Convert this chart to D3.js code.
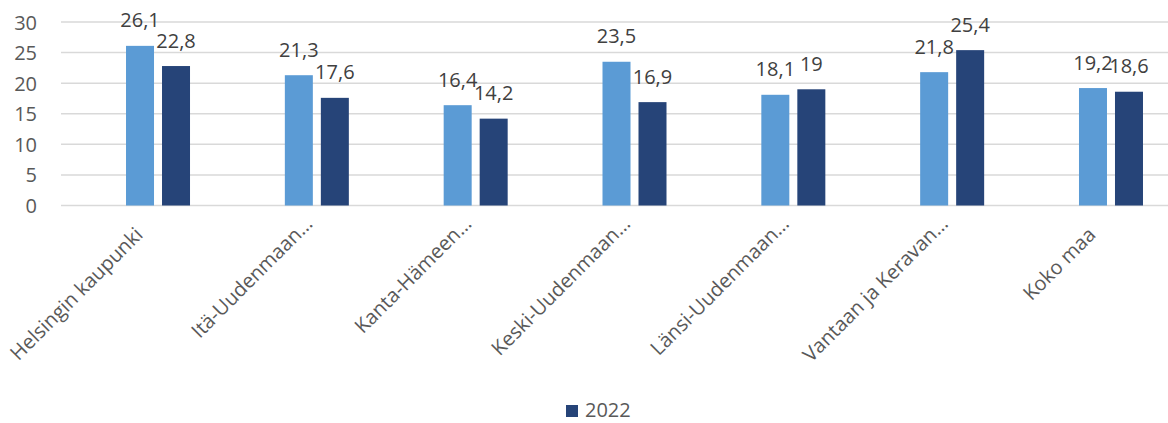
<!DOCTYPE html>
<html>
<head>
<meta charset="utf-8">
<script src="https://cdn.jsdelivr.net/npm/d3@7"></script>
<style>
  html, body { margin: 0; padding: 0; background: #fff; }
  svg { display: block; }
  text { font-family: "Open Sans", "Noto Sans", sans-serif; fill: #595959; }
</style>
</head>
<body>
<svg id="chart" width="1168" height="423"></svg>
<script>
const categories = ["Helsingin kaupunki", "Itä-Uudenmaan…", "Kanta-Hämeen…", "Keski-Uudenmaan…", "Länsi-Uudenmaan…", "Vantaan ja Keravan…", "Koko maa"];
const seriesNames = ["", "2022"];
const seriesPrev = [26.1, 21.3, 16.4, 23.5, 18.1, 21.8, 19.2];
const series2022 = [22.8, 17.6, 14.2, 16.9, 19, 25.4, 18.6];
const yTicks = [0, 5, 10, 15, 20, 25, 30];
const colors = ["#5B9BD5", "#264478"];

const svg = d3.select("#chart");
const fontSize = 20;
const catFontSize = 20;

const y = d3.scaleLinear().domain([0, 30]).range([205.5, 22]);
const x = d3.scaleBand().domain(categories).range([78.6, 1190.4]).paddingInner(0).paddingOuter(0);
const xi = d3.scaleBand().domain(seriesNames).range([-32, 32]).paddingInner(8 / 36).paddingOuter(0);

const gridLeft = 61, gridRight = 1168;

// gridlines
svg.append("g").selectAll("line").data(yTicks).join("line")
  .attr("x1", gridLeft).attr("x2", gridRight)
  .attr("y1", d => y(d)).attr("y2", d => y(d))
  .attr("stroke", "#D9D9D9").attr("stroke-width", 1.5);

// y tick labels
svg.append("g").selectAll("text").data(yTicks).join("text")
  .attr("x", 37).attr("y", d => y(d))
  .attr("text-anchor", "end").attr("dominant-baseline", "central")
  .attr("font-size", fontSize)
  .text(d => d);

const data = [seriesPrev, series2022];
const fmt = v => String(v).replace(".", ",");

data.forEach((vals, si) => {
  svg.append("g").selectAll("rect").data(vals).join("rect")
    .attr("x", (d, i) => x(categories[i]) + x.bandwidth() / 2 + xi(seriesNames[si]))
    .attr("width", xi.bandwidth())
    .attr("y", d => y(d))
    .attr("height", d => y(0) - y(d))
    .attr("fill", colors[si]);
});
data.forEach((vals, si) => {
  svg.append("g").selectAll("text").data(vals).join("text")
    .attr("x", (d, i) => x(categories[i]) + x.bandwidth() / 2 + xi(seriesNames[si]) + xi.bandwidth() / 2)
    .attr("y", d => y(d) - 18.5)
    .attr("text-anchor", "middle")
    .attr("font-size", fontSize)
    .style("fill", "#404040")
    .text(d => fmt(d));
});

// category labels
const probe = svg.append("text").attr("font-size", catFontSize).text("…");
const ellW = probe.node().getComputedTextLength();
probe.remove();

svg.append("g").selectAll("text").data(categories).join("text")
  .attr("transform", d => `translate(${x(d) + x.bandwidth() / 2 - 14},236) rotate(-45)`)
  .attr("text-anchor", "end")
  .attr("dx", d => d.endsWith("…") ? ellW : 0)
  .attr("font-size", catFontSize)
  .text(d => d);

// legend
const lg = svg.append("g");
lg.append("rect").attr("x", 566).attr("y", 405).attr("width", 12).attr("height", 12).attr("fill", colors[1]);
lg.append("text").attr("x", 585).attr("y", 417).attr("font-size", fontSize).text(seriesNames[1]);
</script>
</body>
</html>
